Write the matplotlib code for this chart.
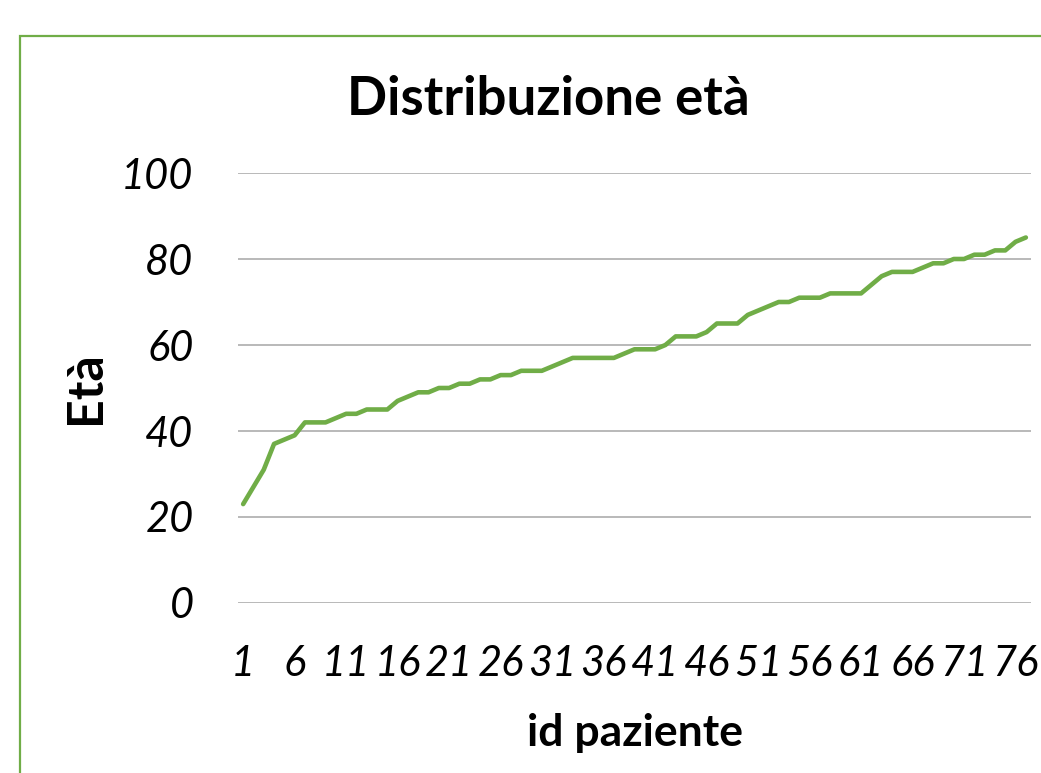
import matplotlib
matplotlib.use('Agg')
import matplotlib.pyplot as plt
from matplotlib.patches import Rectangle

# eta' dei pazienti, ordinate
eta = [23, 27, 31, 37, 38, 39, 42, 42, 42, 43, 44, 44, 45, 45, 45, 47, 48, 49, 49, 50,
       50, 51, 51, 52, 52, 53, 53, 54, 54, 54, 55, 56, 57, 57, 57, 57, 57, 58, 59, 59,
       59, 60, 62, 62, 62, 63, 65, 65, 65, 67, 68, 69, 70, 70, 71, 71, 71, 72, 72, 72,
       72, 74, 76, 77, 77, 77, 78, 79, 79, 80, 80, 81, 81, 82, 82, 84, 85]
id_paziente = list(range(1, len(eta) + 1))
x_ticks = id_paziente[::5]
y_ticks = [0, 20, 40, 60, 80, 100]

verde = '#70AD47'
plt.rcParams['font.family'] = ['Lato', 'DejaVu Sans']

W, H = 1041, 773
fig = plt.figure(figsize=(W / 100, H / 100), dpi=100)
fig.patches.append(Rectangle((20 / W, -0.1), 1.2, 1 - 36 / H + 0.1,
                             transform=fig.transFigure, fill=False,
                             edgecolor=verde, linewidth=1.6))

ax = fig.add_axes([238 / W, 170 / H, 793 / W, 430 / H])
ax.plot(id_paziente, eta, color=verde, linewidth=3.3, solid_capstyle='round',
        solid_joinstyle='round', zorder=3)

ax.set_xlim(0.5, len(eta) + 0.5)
ax.set_ylim(0, 100)
ax.set_yticks(y_ticks)
ax.set_xticks(x_ticks)
ax.set_xticklabels([str(t) for t in x_ticks])
ax.grid(axis='y', color='#A6A6A6', linewidth=1.1)
ax.set_axisbelow(True)
for s in ax.spines.values():
    s.set_visible(False)
ax.tick_params(length=0, labelsize=30)
ax.tick_params(axis='y', pad=32)
ax.tick_params(axis='x', pad=30)
for lab in ax.get_xticklabels() + ax.get_yticklabels():
    lab.set_fontstyle('italic')

fig.text(548 / W, 1 - 115 / H, 'Distribuzione età', fontsize=38, fontweight='bold',
         ha='center', va='baseline')
fig.text(635 / W, 1 - 733 / H, 'id paziente', fontsize=32, fontweight='bold',
         ha='center', va='center')
fig.text(85 / W, 1 - 388 / H, 'Età', fontsize=36, fontweight='bold',
         ha='center', va='center', rotation=90)

fig.savefig('out.png', dpi=100)
